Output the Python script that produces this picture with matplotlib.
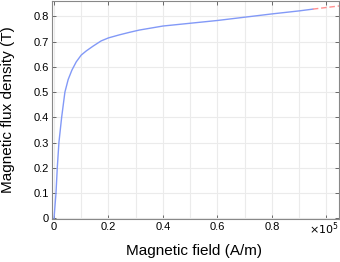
import numpy as np
import matplotlib
matplotlib.use("Agg")
import matplotlib.pyplot as plt
from matplotlib.ticker import MultipleLocator, FuncFormatter

# B-H curve, H in A/m, B in T
h_meas = [0, 730, 1200, 1800, 2800, 4000, 5200, 6560, 8160, 10000, 11800,
          14300, 17300, 20000, 24000, 27700, 31300, 40000, 50000, 60000,
          70000, 80000, 90000, 95000]
b_meas = [0, 0.10, 0.20, 0.30, 0.40, 0.50, 0.55, 0.587, 0.620, 0.647, 0.663,
          0.682, 0.703, 0.715, 0.727, 0.737, 0.746, 0.762, 0.773, 0.784,
          0.797, 0.810, 0.822, 0.829]
# extrapolated part (dashed)
h_extra = [95000, 105000]
b_extra = [0.829, 0.842]

plt.rcParams["font.family"] = ["Liberation Sans", "DejaVu Sans"]

fig = plt.figure(figsize=(3.4, 2.62), dpi=100)
ax = fig.add_axes([0.153, 0.164, 0.844, 0.832])

ax.plot(h_meas, b_meas, color="#8299f7", lw=1.0)
ax.plot(h_extra, b_extra, color="#ff9090", lw=1.0, ls=(0, (4, 2)))

ax.set_xlim(-730, 104600)
ax.set_ylim(-0.003, 0.861)

ax.xaxis.set_major_locator(MultipleLocator(20000))
ax.xaxis.set_minor_locator(MultipleLocator(10000))
ax.yaxis.set_major_locator(MultipleLocator(0.1))


def xfmt(v, pos):
    if v > 90000:
        return ""
    return f"{v / 1e5:g}"


def yfmt(v, pos):
    return f"{v:g}"


ax.xaxis.set_major_formatter(FuncFormatter(xfmt))
ax.yaxis.set_major_formatter(FuncFormatter(yfmt))

ax.grid(True, which="both", color="#ebebeb", lw=0.8)
ax.set_axisbelow(True)
ax.tick_params(which="major", direction="in", top=True, right=True,
               length=3, width=0.6, color="#555555", labelsize=8, pad=2)
ax.tick_params(which="minor", length=0)
for s in ax.spines.values():
    s.set_color("#888888")
    s.set_linewidth(0.8)

ax.text(1.0, -0.008, r"$\times10^5$", transform=ax.transAxes,
        ha="right", va="top", fontsize=8)

ax.set_xlabel("Magnetic field (A/m)", fontsize=11)
ax.set_ylabel("Magnetic flux density (T)", fontsize=11)
ax.xaxis.set_label_coords(0.495, -0.115)
ax.yaxis.set_label_coords(-0.128, 0.5)

fig.savefig("out.png", dpi=100)
